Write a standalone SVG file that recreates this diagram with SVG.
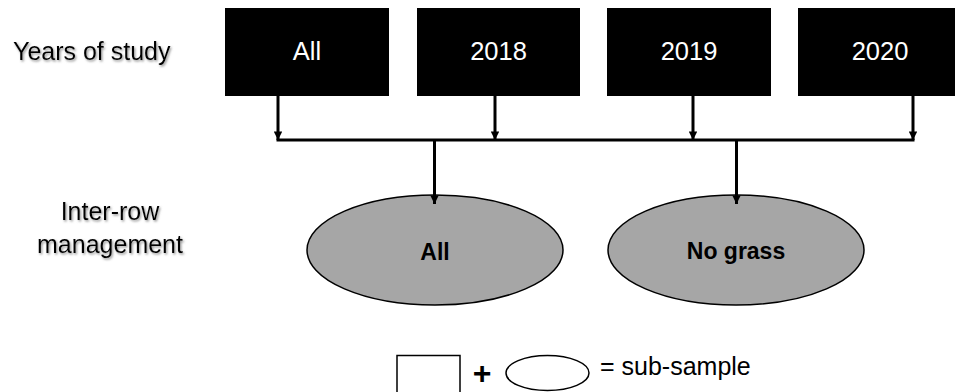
<svg xmlns="http://www.w3.org/2000/svg" width="955" height="392" viewBox="0 0 955 392">
<style>
.box{fill:#000}
.boxt{fill:#fff;font-family:"Liberation Sans",Arial,sans-serif;font-size:25.5px;text-anchor:middle}
.lab{fill:#000;font-family:"Liberation Sans",Arial,sans-serif;font-size:25px}
.ell{fill:#a6a6a6;stroke:#000;stroke-width:1.5}
.ellt{fill:#000;font-family:"Liberation Sans",Arial,sans-serif;font-size:23px;font-weight:bold;text-anchor:middle}
.con{stroke:#000;stroke-width:3;fill:none}
.leg{fill:#fff;stroke:#000;stroke-width:1.5}
</style>
<defs>
<marker id="ah" viewBox="0 0 10 10" refX="10" refY="5" markerWidth="3" markerHeight="2.8" markerUnits="strokeWidth" orient="auto">
<path d="M0,0 L10,5 L0,10 z" fill="#000"/>
</marker>
<filter id="sh" x="-10%" y="-30%" width="120%" height="160%">
<feDropShadow dx="1.2" dy="1.5" stdDeviation="0.9" flood-color="#777" flood-opacity="0.8"/>
</filter>
</defs>
<g id="label-years" filter="url(#sh)"><text class="lab" x="13" y="60">Years of study</text></g>
<g id="label-interrow" filter="url(#sh)">
<text class="lab" x="110" y="220" text-anchor="middle">Inter-row</text>
<text class="lab" x="110" y="253" text-anchor="middle">management</text>
</g>
<g id="node-all-years"><rect class="box" x="225" y="8" width="164" height="88"/><text class="boxt" x="307" y="60">All</text></g>
<g id="node-2018"><rect class="box" x="417" y="8" width="163" height="88"/><text class="boxt" x="498.5" y="60">2018</text></g>
<g id="node-2019"><rect class="box" x="607" y="8" width="164" height="88"/><text class="boxt" x="689" y="60">2019</text></g>
<g id="node-2020"><rect class="box" x="798" y="8" width="164" height="88"/><text class="boxt" x="880" y="60">2020</text></g>
<g id="node-all-mgmt"><ellipse class="ell" cx="435" cy="250" rx="128" ry="55"/><text class="ellt" x="435" y="260">All</text></g>
<g id="node-nograss"><ellipse class="ell" cx="736" cy="250" rx="128" ry="55"/><text class="ellt" x="736" y="259">No grass</text></g>
<g id="connectors">
<line class="con" x1="278" y1="96" x2="278" y2="140" marker-end="url(#ah)"/>
<line class="con" x1="495" y1="96" x2="495" y2="140" marker-end="url(#ah)"/>
<line class="con" x1="693" y1="96" x2="693" y2="140" marker-end="url(#ah)"/>
<line class="con" x1="913" y1="96" x2="913" y2="140" marker-end="url(#ah)"/>
<line class="con" x1="276.5" y1="140" x2="914.5" y2="140"/>
<line class="con" x1="434.5" y1="140" x2="434.5" y2="204" marker-end="url(#ah)"/>
<line class="con" x1="736.5" y1="140" x2="736.5" y2="204" marker-end="url(#ah)"/>
</g>
<g id="legend">
<rect class="leg" x="397" y="355.5" width="63" height="42"/>
<text x="482" y="384" font-family="Liberation Sans,Arial,sans-serif" font-size="32" font-weight="bold" text-anchor="middle">+</text>
<ellipse class="leg" cx="547.5" cy="373" rx="41.5" ry="17.5"/>
<text class="lab" x="600" y="375">= sub-sample</text>
</g>
</svg>
